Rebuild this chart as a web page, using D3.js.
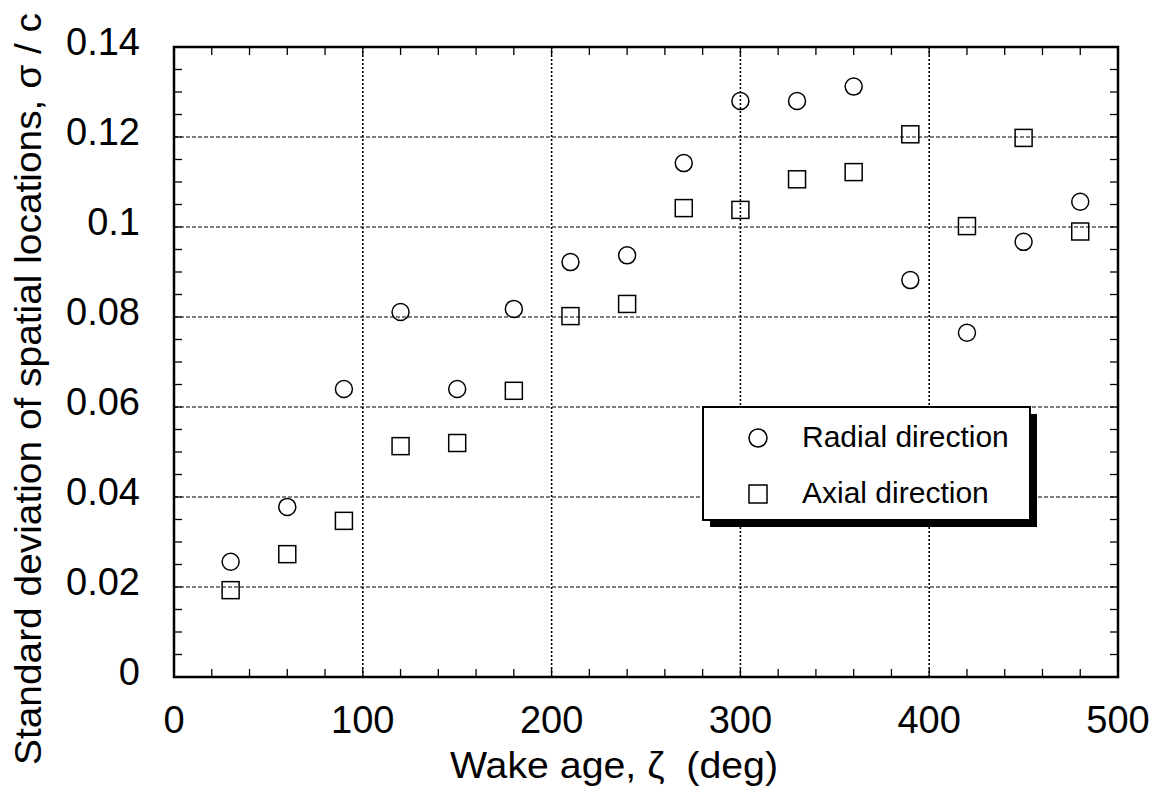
<!DOCTYPE html>
<html>
<head>
<meta charset="utf-8">
<script src="https://cdn.jsdelivr.net/npm/d3@7"></script>
<style>
  body { margin: 0; background: #fff; }
  svg { display: block; font-family: "Liberation Sans", Arial, sans-serif; }
</style>
</head>
<body>
<div id="chart"></div>
<script>
// wake age (deg)
const wakeAge = [30, 60, 90, 120, 150, 180, 210, 240, 270, 300, 330, 360, 390, 420, 450, 480];
// sigma / c
const radial = [0.0256, 0.0378, 0.0640, 0.0811, 0.0640, 0.0818, 0.0922, 0.0937, 0.1142, 0.1280, 0.1280, 0.1312, 0.0882, 0.0765, 0.0967, 0.1056];
const axial = [0.0193, 0.0273, 0.0347, 0.0513, 0.0520, 0.0636, 0.0802, 0.0829, 0.1042, 0.1038, 0.1106, 0.1122, 0.1206, 0.1002, 0.1198, 0.0990];
const xTicks = [0, 100, 200, 300, 400, 500];
const yTicks = [0, 0.02, 0.04, 0.06, 0.08, 0.1, 0.12, 0.14];
const legendLabels = ['Radial direction', 'Axial direction'];

const width = 1160, height = 800;
const margin = { top: 47, right: 42, bottom: 123, left: 174 };

const x = d3.scaleLinear().domain([0, 500]).range([margin.left, width - margin.right]);
const y = d3.scaleLinear().domain([0, 0.14]).range([height - margin.bottom, margin.top]);

const svg = d3.select('#chart')
  .append('svg')
    .attr('width', width)
    .attr('height', height);

// grid
svg.append('g')
  .selectAll('line')
  .data(yTicks.slice(1, -1))
  .join('line')
    .attr('x1', x(0)).attr('x2', x(500))
    .attr('y1', d => y(d)).attr('y2', d => y(d))
    .attr('stroke', '#000')
    .attr('stroke-width', 1)
    .attr('stroke-dasharray', '4,2');

svg.append('g')
  .selectAll('line')
  .data(xTicks.slice(1, -1))
  .join('line')
    .attr('x1', d => x(d)).attr('x2', d => x(d))
    .attr('y1', y(0)).attr('y2', y(0.14))
    .attr('stroke', '#000')
    .attr('stroke-width', 1.6)
    .attr('stroke-dasharray', '2,2');

// minor ticks, inside the frame
const minorX = d3.range(20, 500, 20);
const minorY = d3.range(1, 28).map(i => i * 0.005);
const tickLen = 8;

const ticks = svg.append('g').attr('stroke', '#000').attr('stroke-width', 1.3);
ticks.selectAll('.tb').data(minorX).join('line')
  .attr('x1', d => x(d)).attr('x2', d => x(d))
  .attr('y1', y(0)).attr('y2', y(0) - tickLen);
ticks.selectAll('.tt').data(minorX).join('line')
  .attr('x1', d => x(d)).attr('x2', d => x(d))
  .attr('y1', y(0.14)).attr('y2', y(0.14) + tickLen);
ticks.selectAll('.tl').data(minorY).join('line')
  .attr('x1', x(0)).attr('x2', x(0) + tickLen)
  .attr('y1', d => y(d)).attr('y2', d => y(d));
ticks.selectAll('.tr').data(minorY).join('line')
  .attr('x1', x(500)).attr('x2', x(500) - tickLen)
  .attr('y1', d => y(d)).attr('y2', d => y(d));

// frame
svg.append('rect')
  .attr('x', x(0)).attr('y', y(0.14))
  .attr('width', x(500) - x(0)).attr('height', y(0) - y(0.14))
  .attr('fill', 'none')
  .attr('stroke', '#000')
  .attr('stroke-width', 2.5);

// tick labels
svg.append('g')
  .selectAll('text')
  .data(xTicks)
  .join('text')
    .attr('x', d => x(d))
    .attr('y', y(0) + 56)
    .attr('text-anchor', 'middle')
    .attr('font-size', 38)
    .text(d => d);

svg.append('g')
  .selectAll('text')
  .data(yTicks)
  .join('text')
    .attr('x', x(0) - 34)
    .attr('y', d => y(d) + 8)
    .attr('text-anchor', 'end')
    .attr('font-size', 38)
    .text(d => d === 0 ? '0' : d3.format('~g')(d));

// axis titles
svg.append('text')
  .attr('x', 450)
  .attr('y', 778)
  .attr('font-size', 36)
  .attr('textLength', 328)
  .attr('lengthAdjust', 'spacingAndGlyphs')
  .style('white-space', 'pre')
  .text('Wake age, \u03B6  (deg)');

svg.append('text')
  .attr('transform', 'translate(41,765) rotate(-90)')
  .attr('font-size', 36)
  .attr('textLength', 752)
  .attr('lengthAdjust', 'spacingAndGlyphs')
  .text('Standard deviation of spatial locations, \u03C3 / c');

// points
const pts = svg.append('g').attr('fill', 'none').attr('stroke', '#000').attr('stroke-width', 1.5);
const sq = 17;

pts.selectAll('circle')
  .data(wakeAge.map((a, i) => [a, radial[i]]))
  .join('circle')
    .attr('cx', d => x(d[0]))
    .attr('cy', d => y(d[1]))
    .attr('r', 8.5);

pts.selectAll('rect')
  .data(wakeAge.map((a, i) => [a, axial[i]]))
  .join('rect')
    .attr('x', d => x(d[0]) - sq / 2)
    .attr('y', d => y(d[1]) - sq / 2)
    .attr('width', sq)
    .attr('height', sq);

// legend
const lg = svg.append('g');
const lx = 703, ly = 407, lw = 327, lh = 113;
lg.append('rect')
  .attr('x', lx + 7).attr('y', ly + 7)
  .attr('width', lw).attr('height', lh)
  .attr('fill', '#000');
lg.append('rect')
  .attr('x', lx).attr('y', ly)
  .attr('width', lw).attr('height', lh)
  .attr('fill', '#fff')
  .attr('stroke', '#000')
  .attr('stroke-width', 2);

lg.append('circle')
  .attr('cx', 758).attr('cy', 438)
  .attr('r', 9)
  .attr('fill', 'none').attr('stroke', '#000').attr('stroke-width', 1.5);
lg.append('rect')
  .attr('x', 758 - 9).attr('y', 494 - 9)
  .attr('width', 18).attr('height', 18)
  .attr('fill', 'none').attr('stroke', '#000').attr('stroke-width', 1.5);

lg.selectAll('text')
  .data(legendLabels)
  .join('text')
    .attr('x', 802)
    .attr('y', (d, i) => 447 + i * 56)
    .attr('font-size', 30)
    .text(d => d);
</script>
</body>
</html>
